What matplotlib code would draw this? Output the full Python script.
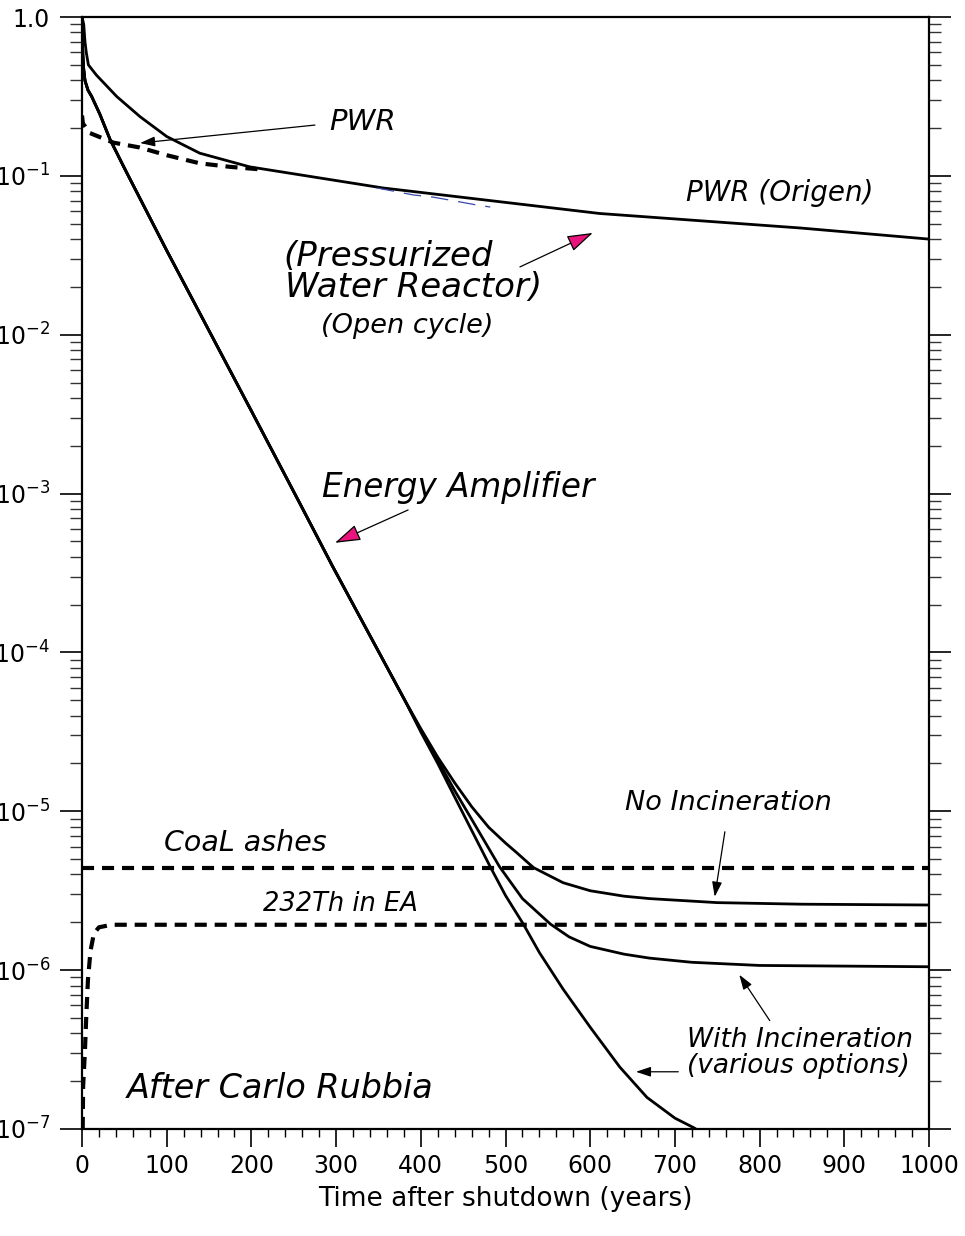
import matplotlib
matplotlib.use('Agg')
import matplotlib.pyplot as plt
import numpy as np
from matplotlib.ticker import FixedLocator, FixedFormatter, LogLocator, MultipleLocator, NullFormatter

plt.rcParams['font.family'] = ['DejaVu Sans']
plt.rcParams['mathtext.fontset'] = 'dejavusans'

# PWR (Origen) solid curve
pwr_years = [0, 2, 3.5, 5, 7.5, 17, 41, 68.5, 100, 139, 198, 355, 611, 848, 1000]
pwr_tox = [1.0, 0.90, 0.70, 0.60, 0.50, 0.431, 0.316, 0.236, 0.177, 0.139, 0.114, 0.084, 0.058, 0.047, 0.040]

# PWR dashed curve (early times)
pwr_dash_years = [0, 1, 9.4, 37, 68, 100, 139, 175, 210]
pwr_dash_tox = [0.240, 0.214, 0.186, 0.162, 0.151, 0.135, 0.120, 0.114, 0.110]

# thin blue dashed piece under the PWR curve
blue_years = [348, 391, 414, 446, 466, 482]
blue_tox = [0.084, 0.0759, 0.0736, 0.0686, 0.0656, 0.0637]

# Energy Amplifier, common part
ea_years = [0, 0.5, 1, 2, 3.5, 7, 11.4, 21, 33, 50, 100, 200, 257, 296, 381]
ea_tox = [1.0, 0.708, 0.575, 0.468, 0.398, 0.347, 0.316, 0.245, 0.170, 0.112, 0.0339,
          3.31e-3, 8.71e-4, 3.47e-4, 5.01e-5]

# branches
steep_years = [400, 420, 440, 460, 482, 500, 521, 540, 568, 600, 635, 667, 700, 722, 740]
steep_tox = [3.16e-5, 2.0e-5, 1.23e-5, 7.59e-6, 4.47e-6, 2.95e-6, 1.95e-6, 1.29e-6,
             7.59e-7, 4.37e-7, 2.45e-7, 1.58e-7, 1.17e-7, 1.02e-7, 8.9e-8]

with_years = [400, 420, 440, 460, 493, 520, 553, 575, 600, 640, 670, 720, 800, 1000]
with_tox = [3.24e-5, 2.09e-5, 1.35e-5, 8.91e-6, 4.47e-6, 2.82e-6, 1.95e-6, 1.62e-6,
            1.41e-6, 1.26e-6, 1.19e-6, 1.12e-6, 1.07e-6, 1.05e-6]

no_years = [400, 420, 440, 460, 480, 500, 513, 533, 568, 600, 640, 670, 750, 850, 1000]
no_tox = [3.31e-5, 2.19e-5, 1.51e-5, 1.07e-5, 7.94e-6, 6.31e-6, 5.50e-6, 4.42e-6,
          3.55e-6, 3.16e-6, 2.92e-6, 2.82e-6, 2.66e-6, 2.60e-6, 2.57e-6]

# reference levels
coal_years = [0, 1000]
coal_tox = [4.4e-6, 4.4e-6]

th_years = [0.8, 1.3, 3.5, 5, 7, 10, 14, 20, 35, 1000]
th_tox = [1.0e-7, 1.86e-7, 3.16e-7, 5.1e-7, 8.7e-7, 1.32e-6, 1.7e-6, 1.86e-6, 1.93e-6, 1.93e-6]

ytick_vals = [1e-7, 1e-6, 1e-5, 1e-4, 1e-3, 1e-2, 1e-1, 1.0]
ytick_labels = [r'$\mathregular{10^{-7}}$', r'$\mathregular{10^{-6}}$', r'$\mathregular{10^{-5}}$',
                r'$\mathregular{10^{-4}}$', r'$\mathregular{10^{-3}}$', r'$\mathregular{10^{-2}}$',
                r'$\mathregular{10^{-1}}$', '1.0']

fig = plt.figure(figsize=(9.65, 12.36), dpi=100)
ax = fig.add_axes([0.085, 0.0866, 0.8777, 0.8996])
ax.set_yscale('log')

solid = dict(color='black', lw=2.0, solid_joinstyle='round')
dash = dict(color='black', lw=3.0, dashes=(2.9, 1.9), dash_capstyle='butt')

ax.plot(pwr_years, pwr_tox, **solid)
ax.plot(pwr_dash_years, pwr_dash_tox, **dash)
ax.plot(blue_years, blue_tox, color='#3848a8', lw=0.9, dashes=(14, 8))

ax.plot(ea_years + steep_years, ea_tox + steep_tox, **solid)
ax.plot(ea_years + with_years, ea_tox + with_tox, **solid)
ax.plot(ea_years + no_years, ea_tox + no_tox, **solid)

ax.plot(coal_years, coal_tox, **dash)
ax.plot(th_years, th_tox, **dash)

ax.set_xlim(0, 1000)
ax.set_ylim(1e-7, 1.0)

ax.yaxis.set_major_locator(FixedLocator(ytick_vals))
ax.yaxis.set_major_formatter(FixedFormatter(ytick_labels))
ax.yaxis.set_minor_locator(LogLocator(base=10, subs=np.arange(2, 10)))
ax.yaxis.set_minor_formatter(NullFormatter())
ax.xaxis.set_major_locator(MultipleLocator(100))
ax.xaxis.set_minor_locator(MultipleLocator(20))

ax.tick_params(axis='y', which='major', direction='out', length=16, width=1.2,
               left=True, right=True, labelsize=17, pad=7)
ax.tick_params(axis='y', which='minor', direction='out', length=8.5, width=1.0,
               left=True, right=True, color='#333333')
ax.tick_params(axis='x', which='major', direction='out', length=13, width=1.2,
               top=False, labelsize=17, pad=5)
ax.tick_params(axis='x', which='minor', direction='out', length=6, width=1.0, top=False)

for s in ax.spines.values():
    s.set_linewidth(1.6)

ax.set_xlabel('Time after shutdown (years)', fontsize=19, labelpad=6)

it = dict(style='italic', transform=ax.transAxes, va='baseline')
ax.text(0.3306, 0.8984, 'PWR', ha='center', fontsize=21, **it)
ax.text(0.824, 0.8345, 'PWR (Origen)', ha='center', fontsize=20, **it)
ax.text(0.2373, 0.7761, '(Pressurized', ha='left', fontsize=24.5, **it)
ax.text(0.2397, 0.7482, 'Water Reactor)', ha='left', fontsize=24.5, **it)
ax.text(0.3837, 0.7158, '(Open cycle)', ha='center', fontsize=19.5, **it)
ax.text(0.4439, 0.5683, 'Energy Amplifier', ha='center', fontsize=23.5, **it)
ax.text(0.7627, 0.2869, 'No Incineration', ha='center', fontsize=19.5, **it)
ax.text(0.1924, 0.2500, 'CoaL ashes', ha='center', fontsize=20.5, **it)
ax.text(0.3046, 0.1960, '232Th in EA', ha='center', fontsize=18.5, **it)
ax.text(0.7143, 0.0737, 'With Incineration', ha='left', fontsize=19, **it)
ax.text(0.7143, 0.0504, '(various options)', ha='left', fontsize=19, **it)
ax.text(0.2338, 0.0279, 'After Carlo Rubbia', ha='center', fontsize=24, **it)

black_arrow = dict(arrowstyle='-|>,head_length=0.9,head_width=0.3', mutation_scale=10,
                   color='black', lw=0.9, shrinkA=0, shrinkB=0)
pink_arrow = dict(arrowstyle='-|>,head_length=1.0,head_width=0.32', mutation_scale=16,
                  fc='#e8147c', ec='black', lw=0.9, shrinkA=0, shrinkB=0)

ax.annotate('', xy=(68.5, 10**-0.793), xytext=(275, 10**-0.680), arrowprops=black_arrow)
ax.annotate('', xy=(603, 10**-1.359), xytext=(517, 10**-1.573), arrowprops=pink_arrow)
ax.annotate('', xy=(298.7, 10**-3.310), xytext=(385, 10**-3.103), arrowprops=pink_arrow)
ax.annotate('', xy=(747, 10**-5.538), xytext=(759, 10**-5.129), arrowprops=black_arrow)
ax.annotate('', xy=(776, 10**-6.029), xytext=(812, 10**-6.318), arrowprops=black_arrow)
ax.annotate('', xy=(654, 10**-6.64), xytext=(704, 10**-6.64), arrowprops=black_arrow)

fig.savefig('out.png', dpi=100)
